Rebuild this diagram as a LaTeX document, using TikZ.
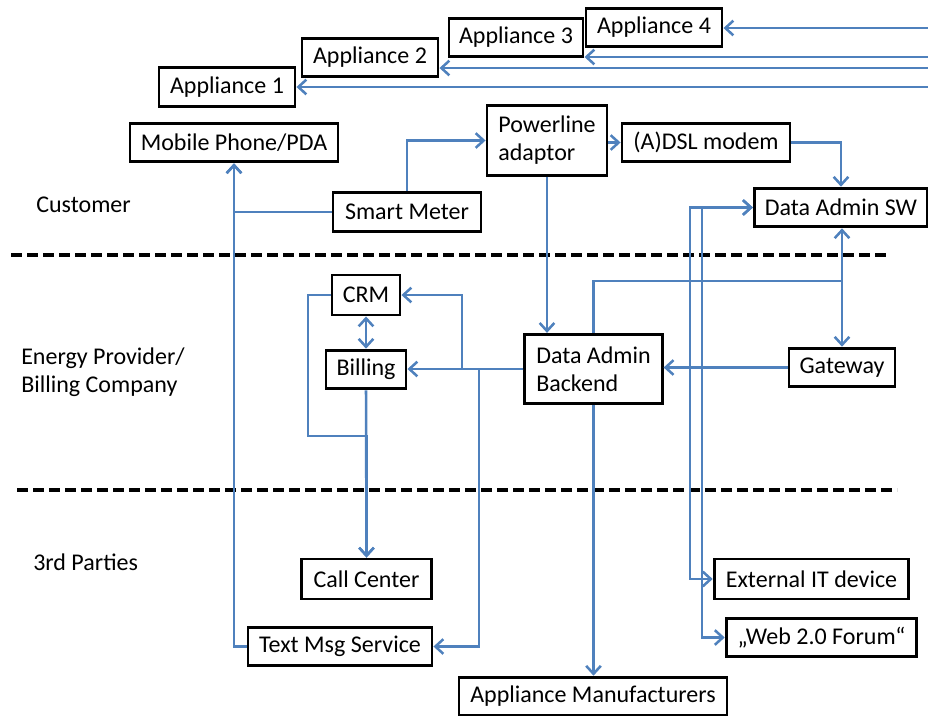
\documentclass[tikz,border=0pt]{standalone}
\usepackage{fontspec}
\setmainfont{Carlito}
\usetikzlibrary{arrows.meta}
\definecolor{linkblue}{RGB}{79,129,189}

\begin{document}
\begin{tikzpicture}[x=0.75pt, y=-0.75pt, font=\fontsize{18}{21}\selectfont,
	box/.style={draw, line width=2.2pt, inner sep=0pt, minimum height=29pt, align=left},
	tall/.style={box, minimum height=52pt},
	zone/.style={inner sep=0pt, anchor=west, align=left},
	link/.style={draw=linkblue, line width=1.9pt, -{Straight Barb[length=6pt,width=11pt]}},
	twoway/.style={link, {Straight Barb[length=6pt,width=11pt]}-{Straight Barb[length=6pt,width=11pt]}},
	border/.style={line width=3pt, dash pattern=on 8.25pt off 3.75pt}]
	\path[use as bounding box] (0,0) rectangle (928,715);
	%zones
	\draw[border] (11,255) -- (890,255);
	\draw[border] (17,490) -- (897,490);
	\node[zone] (customer) at (36,205) {Customer};
	\node[zone] (provider) at (21,372) {Energy Provider/\\Billing Company};
	\node[zone] (third) at (33,562) {3rd Parties};
	%boxes
	\node[box, minimum width=102pt] (app1) at (227,87) {Appliance 1};
	\node[box, minimum width=102pt] (app2) at (370,57.5) {Appliance 2};
	\node[box, minimum width=100.5pt] (app3) at (516,37.5) {Appliance 3};
	\node[box, minimum width=102pt] (app4) at (654,27.5) {Appliance 4};
	\node[box, minimum width=156pt] (phone) at (234,142.5) {Mobile Phone/PDA};
	\node[box, minimum width=111pt] (meter) at (407,212) {Smart Meter};
	\node[tall, minimum width=90pt] (plc) at (547,140.5) {Powerline\\adaptor};
	\node[box, minimum width=126pt] (dsl) at (706,142.5) {(A)DSL modem};
	\node[box, minimum width=130pt] (sw) at (841,207.5) {Data Admin SW};
	\node[box, minimum width=51pt, minimum height=30pt] (crm) at (366,295) {CRM};
	\node[box, minimum width=60pt] (bill) at (366,369.5) {Billing};
	\node[tall, minimum width=103pt] (backend) at (593.5,369) {Data Admin\\Backend};
	\node[box, minimum width=79.5pt] (gw) at (842,367.5) {Gateway};
	\node[box, minimum width=97pt, minimum height=30pt] (callc) at (366.5,579) {Call Center};
	\node[box, minimum width=138pt] (sms) at (340,646.5) {Text Msg Service};
	\node[box, minimum width=201pt] (mfr) at (593,696.5) {Appliance Manufacturers};
	\node[box, minimum width=146pt, minimum height=30pt] (extit) at (811.5,579) {External IT device};
	\node[box, minimum width=143pt] (web) at (821.5,637.5) {„Web 2.0 Forum“};
	%feeds from the right edge
	\coordinate (feed4) at (928,28);
	\coordinate (feed3) at (928,57);
	\coordinate (feed2) at (928,68);
	\coordinate (feed1) at (928,87);
	\draw[link] (feed4) -- (feed4 -| app4.east);
	\draw[link] (feed3) -- (feed3 -| app3.east);
	\draw[link] (feed2) -- (feed2 -| app2.east);
	\draw[link] (feed1) -- (feed1 -| app1.east);
	%customer side
	\draw[link] (meter.west) -| (phone.south);
	\draw[link] (sms.west) -| (phone.south);
	\draw[link] (meter.north) |- (plc.west);
	\draw[link] (plc.east |- dsl.west) -- (dsl.west);
	\draw[link] (dsl.east) -| (sw.north);
	\draw[link] (plc.south) -- (plc.south |- backend.north);
	%backend
	\coordinate (split) at (842,281);
	\draw[link] (backend.north) |- (split) -- (split |- sw.south);
	\draw[link] (split) -- (gw.north);
	\draw[link] (gw.west) -- (gw.west -| backend.east);
	\coordinate (tocrm) at (462,369);
	\coordinate (tosms) at (479,369);
	\draw[link] (backend.west) -- (backend.west -| bill.east);
	\draw[link] (backend.west) -- (tocrm) |- (crm.east);
	\draw[link] (backend.west) -- (tosms) |- (sms.east);
	\draw[twoway] (crm.south) -- (bill.north);
	\coordinate (loop) at (308,436);
	\draw[link] (crm.west) -| (loop) -| (callc.north);
	\draw[link] (bill.south) -- (callc.north);
	\draw[link] (backend.south) -- (backend.south |- mfr.north);
	%third parties
	\coordinate (lane1) at (690,0);
	\coordinate (lane2) at (702,0);
	\draw[twoway] (sw.west) -| (lane1 |- extit.west) -- (extit.west);
	\draw[twoway] (sw.west) -| (lane2 |- web.west) -- (web.west);
\end{tikzpicture}
\end{document}
